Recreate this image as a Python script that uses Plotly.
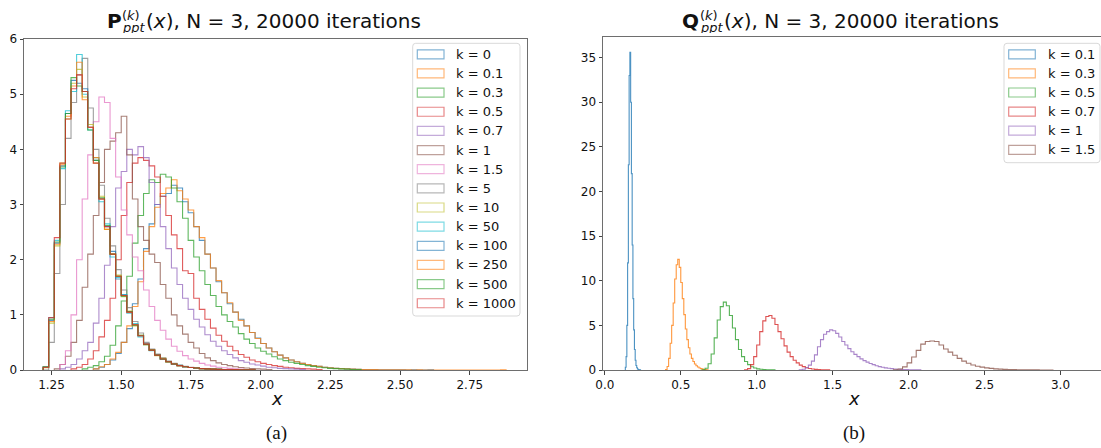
import numpy as np
import plotly.graph_objects as go

W, H = 1101, 448

# ---------------- data: left panel P^(k)_ppt(x) (density histograms) ----------------
P_LABELS = ["k = 0", "k = 0.1", "k = 0.3", "k = 0.5", "k = 0.7", "k = 1", "k = 1.5",
            "k = 5", "k = 10", "k = 50", "k = 100", "k = 250", "k = 500", "k = 1000"]
P_BIN = 0.02
P_STARTS = [1.40, 1.40, 1.36, 1.32, 1.28, 1.26, 1.28, 1.22, 1.22, 1.22, 1.22, 1.22, 1.22, 1.22]

P_K0 = [0.02, 0.05, 0.1, 0.18, 0.3, 0.5, 0.75, 1.2, 1.65, 2.2, 2.65, 3.0, 3.15, 3.2, 3.35, 3.3,
        3.05, 2.85, 2.6, 2.35, 2.1, 1.85, 1.6, 1.4, 1.2, 1.05, 0.92, 0.8, 0.68, 0.58, 0.48, 0.4,
        0.33, 0.27, 0.22, 0.18, 0.15, 0.12, 0.1, 0.08, 0.065, 0.05, 0.04, 0.03, 0.025, 0.02,
        0.015, 0.012, 0.01, 0.008, 0.006, 0.005, 0.004, 0.003, 0.002, 0.002, 0.0, 0.002, 0.0,
        0.0, 0.002]
P_K01 = [0.02, 0.06, 0.1, 0.2, 0.32, 0.5, 0.8, 1.15, 1.6, 2.15, 2.6, 2.95, 3.2, 3.3, 3.45, 3.25,
         3.1, 2.9, 2.6, 2.4, 2.1, 1.85, 1.62, 1.4, 1.22, 1.05, 0.9, 0.8, 0.68, 0.57, 0.48, 0.4,
         0.33, 0.27, 0.22, 0.18, 0.15, 0.12, 0.1, 0.08, 0.065, 0.05, 0.04, 0.03, 0.025, 0.02,
         0.015, 0.012, 0.01, 0.008, 0.006, 0.005, 0.004, 0.003, 0.003, 0.002, 0.002, 0.0, 0.002,
         0.0, 0.0, 0.0, 0.0, 0.0, 0.0, 0.0, 0.0, 0.0, 0.0, 0.0, 0.0, 0.0, 0.0, 0.002]
P_K03 = [0.02, 0.05, 0.08, 0.15, 0.25, 0.45, 0.8, 1.25, 1.7, 2.3, 2.8, 3.2, 3.45, 3.4, 3.55, 3.5,
         3.3, 3.05, 2.75, 2.35, 2.05, 1.8, 1.55, 1.35, 1.15, 1.0, 0.88, 0.78, 0.66, 0.56, 0.48,
         0.4, 0.34, 0.29, 0.24, 0.2, 0.17, 0.14, 0.12, 0.1, 0.08, 0.065, 0.05, 0.04, 0.03, 0.025,
         0.02, 0.015, 0.01, 0.01]
P_K05 = [0.02, 0.05, 0.1, 0.2, 0.35, 0.6, 0.9, 1.3, 2.0, 2.8, 3.4, 3.75, 3.85, 3.8, 3.7, 3.5,
         3.15, 2.8, 2.45, 2.2, 1.8, 1.75, 1.3, 1.1, 0.92, 0.76, 0.63, 0.52, 0.43, 0.35, 0.28,
         0.23, 0.18, 0.15, 0.12, 0.1, 0.08, 0.065, 0.05, 0.04, 0.03, 0.025, 0.02, 0.015, 0.01]
P_K07 = [0.02, 0.05, 0.1, 0.2, 0.35, 0.5, 0.85, 1.3, 1.9, 2.6, 3.3, 3.6, 4.0, 3.9, 4.05, 3.85,
         3.4, 3.0, 2.6, 2.2, 1.85, 1.55, 1.3, 1.1, 0.92, 0.78, 0.64, 0.52, 0.43, 0.35, 0.28,
         0.22, 0.17, 0.14, 0.11, 0.09, 0.07, 0.05, 0.04, 0.03, 0.025, 0.02, 0.015, 0.01]
P_K1 = [0.02, 0.1, 0.25, 0.5, 0.9, 1.5, 2.1, 2.8, 3.4, 4.0, 4.15, 4.3, 4.6, 3.9, 3.1, 2.6,
        2.35, 2.1, 1.95, 1.55, 1.3, 1.0, 0.8, 0.65, 0.5, 0.4, 0.3, 0.22, 0.17, 0.13, 0.1, 0.08,
        0.06, 0.045, 0.035, 0.025, 0.02, 0.015, 0.01]
P_K15 = [0.1, 0.35, 1.0, 2.0, 3.1, 3.9, 4.5, 4.95, 4.85, 4.2, 3.5, 2.9, 2.45, 2.05, 1.8, 1.45,
         1.15, 0.9, 0.72, 0.56, 0.43, 0.34, 0.26, 0.2, 0.16, 0.12, 0.09, 0.07, 0.05, 0.04, 0.03,
         0.02, 0.015, 0.01]
P_K5 = [0.0, 0.5, 1.75, 3.0, 4.2, 4.85, 5.35, 5.65, 4.75, 4.0, 3.35, 2.75, 2.25, 1.82, 1.45, 1.13,
        0.88, 0.67, 0.5, 0.38, 0.29, 0.22, 0.16, 0.12, 0.09, 0.065, 0.05, 0.038, 0.028, 0.02,
        0.015, 0.012, 0.01, 0.008, 0.006, 0.005, 0.004, 0.003]
P_K10 = [0.04, 0.85, 2.25, 3.75, 4.55, 5.2, 5.45, 4.95, 4.45, 3.75, 3.15, 2.55, 2.1, 1.72, 1.33,
         1.07, 0.8, 0.63, 0.46, 0.37, 0.26, 0.21, 0.14, 0.11, 0.08, 0.06, 0.045, 0.035, 0.025,
         0.02, 0.015, 0.012, 0.01, 0.008, 0.006, 0.005, 0.004, 0.003]
P_K50 = [0.06, 0.95, 2.35, 3.65, 4.7, 5.05, 5.72, 5.0, 4.35, 3.85, 3.05, 2.65, 2.05, 1.68, 1.37,
         1.03, 0.84, 0.6, 0.48, 0.35, 0.28, 0.19, 0.15, 0.1, 0.085, 0.055, 0.045, 0.03, 0.025,
         0.02, 0.014, 0.012, 0.009, 0.007, 0.006, 0.004, 0.003, 0.002]
P_K100 = [0.05, 0.9, 2.3, 3.7, 4.65, 5.25, 5.2, 5.1, 4.4, 3.8, 3.1, 2.6, 2.15, 1.65, 1.36, 1.05,
          0.82, 0.62, 0.47, 0.36, 0.27, 0.2, 0.15, 0.11, 0.08, 0.06, 0.045, 0.035, 0.025, 0.02,
          0.015, 0.012, 0.01, 0.008, 0.006, 0.005, 0.004, 0.003]
P_K250 = [0.05, 0.88, 2.28, 3.72, 4.6, 5.15, 5.58, 4.9, 4.4, 3.85, 3.1, 2.55, 2.1, 1.7, 1.35, 1.05,
          0.82, 0.62, 0.47, 0.36, 0.27, 0.2, 0.15, 0.11, 0.08, 0.06, 0.045, 0.035, 0.025, 0.02,
          0.015, 0.012, 0.01, 0.008, 0.006, 0.005, 0.004, 0.003]
P_K500 = [0.06, 0.92, 2.32, 3.68, 4.65, 5.3, 5.15, 5.05, 4.35, 3.8, 3.12, 2.62, 2.1, 1.7, 1.34,
          1.06, 0.81, 0.63, 0.46, 0.36, 0.27, 0.2, 0.15, 0.11, 0.08, 0.06, 0.045, 0.035, 0.025,
          0.02, 0.015, 0.012, 0.01, 0.008, 0.006, 0.005, 0.004, 0.003]
P_K1000 = [0.05, 0.95, 2.4, 3.75, 4.55, 5.1, 5.35, 5.05, 4.4, 3.75, 3.1, 2.6, 2.1, 1.7, 1.35, 1.05,
           0.82, 0.62, 0.47, 0.36, 0.27, 0.2, 0.15, 0.11, 0.08, 0.06, 0.045, 0.035, 0.025, 0.02,
           0.015, 0.012, 0.01, 0.008, 0.006, 0.005, 0.004, 0.003]
P_SERIES = [P_K0, P_K01, P_K03, P_K05, P_K07, P_K1, P_K15, P_K5, P_K10, P_K50,
            P_K100, P_K250, P_K500, P_K1000]

# ---------------- data: right panel Q^(k)_ppt(x) ----------------
Q_LABELS = ["k = 0.1", "k = 0.3", "k = 0.5", "k = 0.7", "k = 1", "k = 1.5"]
Q_STARTS = [0.135, 0.40, 0.64, 0.92, 1.28, 1.90]
Q_BINS = [0.005, 0.01, 0.02, 0.02, 0.02, 0.03]
Q_K01 = [0.3, 1.5, 5.0, 12.0, 23.0, 33.0, 35.6, 30.0, 22.0, 14.0, 8.0, 4.5, 2.3, 1.1, 0.5,
         0.25, 0.12, 0.06, 0.03, 0.01]
Q_K03 = [0.05, 0.4, 1.3, 3.0, 5.0, 7.5, 10.2, 11.8, 12.4, 11.5, 9.8, 8.0, 6.2, 4.6, 3.4, 2.5,
         1.8, 1.3, 0.95, 0.68, 0.48, 0.33, 0.22, 0.15, 0.1, 0.06, 0.04, 0.02]
Q_K05 = [0.03, 0.2, 0.7, 1.8, 3.6, 5.6, 7.1, 7.6, 7.2, 6.1, 4.7, 3.4, 2.3, 1.5, 0.95, 0.6, 0.37,
         0.22, 0.13, 0.08, 0.05, 0.03, 0.015, 0.01]
Q_K07 = [0.03, 0.15, 0.6, 1.5, 2.8, 4.3, 5.5, 6.0, 6.1, 5.8, 5.1, 4.3, 3.5, 2.7, 2.0, 1.5, 1.1,
         0.8, 0.55, 0.38, 0.26, 0.17, 0.11, 0.07, 0.05, 0.03, 0.02, 0.01]
Q_K1 = [0.02, 0.08, 0.25, 0.55, 1.0, 1.7, 2.6, 3.4, 4.0, 4.3, 4.5, 4.4, 4.1, 3.7, 3.2, 2.8, 2.4,
        2.05, 1.75, 1.5, 1.25, 1.05, 0.88, 0.72, 0.6, 0.48, 0.38, 0.3, 0.24, 0.19, 0.15, 0.12,
        0.09, 0.07, 0.05, 0.04, 0.03, 0.02, 0.015, 0.01]
Q_K15 = [0.03, 0.12, 0.35, 0.8, 1.45, 2.2, 2.9, 3.2, 3.25, 3.2, 2.8, 2.35, 2.0, 1.65, 1.3, 1.0,
         0.75, 0.56, 0.42, 0.32, 0.24, 0.18, 0.13, 0.1, 0.07, 0.05, 0.04, 0.03, 0.02, 0.015,
         0.012, 0.01, 0.008, 0.006, 0.004]
Q_SERIES = [Q_K01, Q_K03, Q_K05, Q_K07, Q_K1, Q_K15]

P_TICKS = [1.25, 1.50, 1.75, 2.00, 2.25, 2.50, 2.75]
P_YTICKS = [0, 1, 2, 3, 4, 5, 6]
Q_TICKS = [0.0, 0.5, 1.0, 1.5, 2.0, 2.5, 3.0]
Q_YTICKS = [0, 5, 10, 15, 20, 25, 30, 35]

COLORS = ["#1f77b4", "#ff7f0e", "#2ca02c", "#d62728", "#9467bd",
          "#8c564b", "#e377c2", "#7f7f7f", "#bcbd22", "#17becf"]
FONT = "DejaVu Sans"


def step_xy(start, width, vals):
    v = np.asarray(vals, dtype=float)
    edges = start + width * np.arange(len(v) + 1)
    xs = np.concatenate([[edges[0]], edges[:-1], [edges[-1], edges[-1]]])
    ys = np.concatenate([[0.0], v, [v[-1], 0.0]])
    return xs, ys


def px(x):
    return x / W


def py(y):
    return 1 - y / H


fig = go.Figure()

for i, vals in enumerate(P_SERIES):
    xs, ys = step_xy(P_STARTS[i], P_BIN, vals)
    fig.add_trace(go.Scatter(x=xs, y=ys, mode="lines", xaxis="x", yaxis="y",
                             line=dict(color=COLORS[i % 10], width=1.1, shape="hv"),
                             opacity=0.75, showlegend=False, hoverinfo="skip"))

for i, vals in enumerate(Q_SERIES):
    xs, ys = step_xy(Q_STARTS[i], Q_BINS[i], vals)
    fig.add_trace(go.Scatter(x=xs, y=ys, mode="lines", xaxis="x2", yaxis="y2",
                             line=dict(color=COLORS[i % 10], width=1.1, shape="hv"),
                             opacity=0.8, showlegend=False, hoverinfo="skip"))

axis_common = dict(showgrid=False, zeroline=False, showline=True, linecolor="#6e6e6e",
                   linewidth=1, ticks="outside", ticklen=3.5, tickwidth=1, tickcolor="#444",
                   automargin=False,
                   tickfont=dict(family=FONT, size=12, color="#111"))

fig.update_layout(
    width=W, height=H, margin=dict(l=0, r=0, t=0, b=0, pad=0, autoexpand=False),
    paper_bgcolor="white", plot_bgcolor="white", showlegend=False,
    xaxis=dict(domain=[px(24), px(527)], range=[1.1514, 2.955], anchor="y", mirror=True,
               tickvals=P_TICKS, ticktext=[f"{t:.2f}" for t in P_TICKS], **axis_common),
    yaxis=dict(domain=[py(370), py(38.5)], range=[0, 6.01], anchor="x", mirror=True,
               tickvals=P_YTICKS, ticktext=[str(t) for t in P_YTICKS], **axis_common),
    xaxis2=dict(domain=[px(603), 1.0], range=[-0.012, (1101 - 604.5) / 152.0], anchor="y2",
                mirror=True, tickvals=Q_TICKS, ticktext=[f"{t:.1f}" for t in Q_TICKS],
                **axis_common),
    yaxis2=dict(domain=[py(370), py(37.3)], range=[0, 37.28], anchor="x2", mirror=False,
                tickvals=Q_YTICKS, ticktext=[str(t) for t in Q_YTICKS], **axis_common),
)

ann = []
shapes = []


def text(x, y, s, size, xanchor="left", family=FONT, color="#111", height=None):
    a = dict(x=px(x), y=py(y), xref="paper", yref="paper", text=s, showarrow=False,
             xanchor=xanchor, yanchor="middle", borderpad=0,
             font=dict(family=family, size=size, color=color))
    if height is not None:
        a["height"] = height
    ann.append(a)


# titles (bold letter, stacked super/subscript, rest of the title)
for letter, x0, xs, xm in [("P", 106, 121, 144.5), ("Q", 680.5, 698.5, 722.5)]:
    text(x0, 21, f"<b>{letter}</b>", 20)
    text(xs, 16, "(<i>k</i>)", 13, height=11)
    text(xs, 27.5, "<i>ppt</i>", 13, height=11)
    text(xm, 21, "(<i>x</i>), N = 3, 20000 iterations", 20)

# axis titles and captions
text(277, 398, "<i>x</i>", 18, xanchor="center")
text(854, 398, "<i>x</i>", 18, xanchor="center")
text(276.5, 433, "(a)", 19, xanchor="center", family="Liberation Serif")
text(854, 433, "(b)", 19, xanchor="center", family="Liberation Serif")


def legend(x0, y0, x1, y1, labels, first_y, step, patch_x0, patch_x1, text_x):
    r = 3
    path = (f"M {px(x0 + r)},{py(y0)} L {px(x1 - r)},{py(y0)} "
            f"Q {px(x1)},{py(y0)} {px(x1)},{py(y0 + r)} L {px(x1)},{py(y1 - r)} "
            f"Q {px(x1)},{py(y1)} {px(x1 - r)},{py(y1)} L {px(x0 + r)},{py(y1)} "
            f"Q {px(x0)},{py(y1)} {px(x0)},{py(y1 - r)} L {px(x0)},{py(y0 + r)} "
            f"Q {px(x0)},{py(y0)} {px(x0 + r)},{py(y0)} Z")
    shapes.append(dict(type="path", path=path, xref="paper", yref="paper",
                       line=dict(color="#d9d9d9", width=1), fillcolor="rgba(255,255,255,0.85)",
                       layer="above"))
    for i, lab in enumerate(labels):
        yc = first_y + i * step
        shapes.append(dict(type="rect", xref="paper", yref="paper",
                           x0=px(patch_x0), x1=px(patch_x1), y0=py(yc + 4.5), y1=py(yc - 4.5),
                           line=dict(color=COLORS[i % 10], width=1.2), opacity=0.55,
                           fillcolor="rgba(0,0,0,0)", layer="above"))
        text(text_x, yc, lab, 13)


legend(412.7, 43.3, 520, 316, P_LABELS, 54.3, 19.15, 417.3, 444, 455)
legend(1004, 43.3, 1100, 162.7, Q_LABELS, 54.3, 19.1, 1008.7, 1035.3, 1046.7)

fig.update_layout(annotations=ann, shapes=shapes)
fig.write_html(
    "out.html",
    config={"displayModeBar": False},
    post_script="document.body.style.margin='0';document.body.style.padding='0';"
                "document.body.style.overflow='hidden';"
                "document.documentElement.style.overflow='hidden';",
)
